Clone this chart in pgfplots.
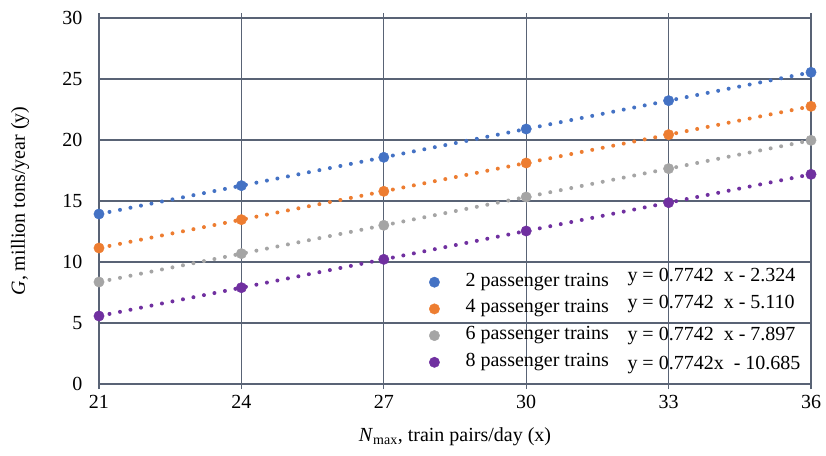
\documentclass[border=0pt]{standalone}
\usepackage{fontspec}
\setmainfont{Liberation Serif}
\usepackage{pgfplots}
\pgfplotsset{compat=1.18}
\definecolor{cA}{HTML}{4472C4}
\definecolor{cB}{HTML}{ED7D31}
\definecolor{cC}{HTML}{A5A5A5}
\definecolor{cD}{HTML}{7030A0}
\definecolor{gridc}{RGB}{89,99,117}
\pgfplotstableread{
x a b c d
21 13.934 11.148 8.361 5.573
24 16.257 13.471 10.684 7.896
27 18.580 15.793 13.007 10.218
30 20.902 18.116 15.329 12.541
33 23.225 20.439 17.652 14.864
36 25.548 22.761 19.975 17.186
}\datatable
\begin{document}
\begin{tikzpicture}
\begin{axis}[
  scale only axis, width=712pt, height=366pt,
  xmin=21, xmax=36, ymin=0, ymax=30,
  xtick={21,24,27,30,33,36}, ytick={0,5,...,30},
  grid=major, grid style={gridc, line width=1.3pt},
  axis line style={gridc, line width=1.3pt},
  xtick style={gridc, line width=1.3pt}, ytick style={draw=none},
  tick align=outside, major tick length=5pt,
  /pgf/number format/assume math mode=true,
  ticklabel style={font=\fontsize{20}{24}\selectfont},
  xticklabel style={yshift=-3pt},
  yticklabel style={xshift=-8pt},
  xlabel={\textit{N}\textsubscript{max}, train pairs/day (x)},
  ylabel={\textit{G}, million tons/year (y)},
  label style={font=\fontsize{20}{24}\selectfont},
  xlabel style={at={(axis description cs:0.5,-0.145)}, anchor=center},
  ylabel style={at={(axis description cs:-0.111,0.5)}, anchor=center},
  legend style={at={(rel axis cs:0.4635,0.306)}, anchor=north west, draw=none, fill=none,
    font=\fontsize{20}{24}\selectfont, row sep=6.7pt, column sep=26pt, inner sep=0pt,
    nodes={inner sep=0pt, text height=14pt, text depth=6pt}},
  legend cell align=left,
  legend image code/.code={\draw[#1] plot coordinates {(0.3cm,0cm)};},
  trend/.style={line width=4pt, dash pattern=on 0pt off 10.7pt, line cap=round, mark=none, forget plot},
  pts/.style={only marks, mark=*, mark size=5.2pt},
]
\addplot[trend, cA] table[x=x,y=a]{\datatable};
\addplot[trend, cB] table[x=x,y=b]{\datatable};
\addplot[trend, cC] table[x=x,y=c]{\datatable};
\addplot[trend, cD] table[x=x,y=d]{\datatable};
\addplot[pts, cA, mark options={fill=cA, draw=cA}] table[x=x,y=a]{\datatable};
\addlegendentry{2 passenger trains}
\addplot[pts, cB, mark options={fill=cB, draw=cB}] table[x=x,y=b]{\datatable};
\addlegendentry{4 passenger trains}
\addplot[pts, cC, mark options={fill=cC, draw=cC}] table[x=x,y=c]{\datatable};
\addlegendentry{6 passenger trains}
\addplot[pts, cD, mark options={fill=cD, draw=cD}] table[x=x,y=d]{\datatable};
\addlegendentry{8 passenger trains}
\node[anchor=west, font=\fontsize{20}{24}\selectfont, inner sep=0pt] at (rel axis cs:0.742,0.292) {y = 0.7742~~x - 2.324};
\node[anchor=west, font=\fontsize{20}{24}\selectfont, inner sep=0pt] at (rel axis cs:0.742,0.219) {y = 0.7742~~x - 5.110};
\node[anchor=west, font=\fontsize{20}{24}\selectfont, inner sep=0pt] at (rel axis cs:0.742,0.131) {y = 0.7742~~x - 7.897};
\node[anchor=west, font=\fontsize{20}{24}\selectfont, inner sep=0pt] at (rel axis cs:0.742,0.052) {y = 0.7742x~~- 10.685};
\end{axis}
\pgfresetboundingbox
\path (-99pt,-71pt) rectangle (727pt,384pt);
\end{tikzpicture}
\end{document}
